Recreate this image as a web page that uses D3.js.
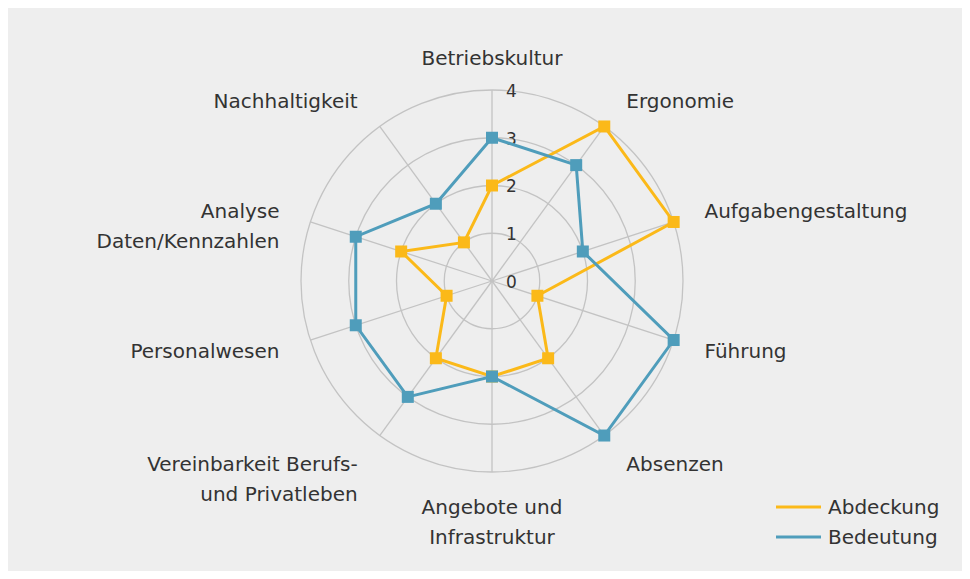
<!DOCTYPE html>
<html>
<head>
<meta charset="utf-8">
<script src="https://cdn.jsdelivr.net/npm/d3@7"></script>
<style>
  html, body { margin: 0; padding: 0; background: #fff; }
  svg { display: block; }
  text { font-family: "DejaVu Sans", sans-serif; fill: #333; }
</style>
</head>
<body>
<svg width="970" height="579"></svg>
<script>
// categories clockwise from the top, "|" splits a label into lines
const categories = [
  "Betriebskultur",
  "Ergonomie",
  "Aufgabengestaltung",
  "Führung",
  "Absenzen",
  "Angebote und|Infrastruktur",
  "Vereinbarkeit Berufs-|und Privatleben",
  "Personalwesen",
  "Analyse|Daten/Kennzahlen",
  "Nachhaltigkeit"
];
const abdeckung = [2, 4, 4, 1, 2, 2, 2, 1, 2, 1];
const bedeutung = [3, 3, 2, 4, 4, 2, 3, 3, 3, 2];
const ticks = [0, 1, 2, 3, 4];
const seriesNames = ["Abdeckung", "Bedeutung"];
const seriesColors = ["#fbb919", "#4f9dbb"];

const W = 970, H = 579;
const CX = 492, CY = 281, R = 191;

const svg = d3.select("svg");

// grey panel
svg.append("rect")
  .attr("x", 8).attr("y", 8)
  .attr("width", W - 16).attr("height", H - 16)
  .attr("fill", "#eeeeee");

const g = svg.append("g").attr("transform", `translate(${CX},${CY})`);

const r = d3.scaleLinear().domain([0, 4]).range([0, R]);
const angle = d3.scaleLinear()
  .domain([0, categories.length])
  .range([0, 2 * Math.PI]);

const px = (i, v) => r(v) * Math.sin(angle(i));
const py = (i, v) => -r(v) * Math.cos(angle(i));

// rings
g.selectAll(".ring")
  .data(ticks.filter(t => t > 0))
  .enter()
  .append("circle")
  .attr("r", d => r(d))
  .attr("fill", "none")
  .attr("stroke", "#c3c3c3")
  .attr("stroke-width", 1.3);

// spokes
g.selectAll(".spoke")
  .data(categories)
  .enter()
  .append("line")
  .attr("x1", 0).attr("y1", 0)
  .attr("x2", (d, i) => px(i, 4))
  .attr("y2", (d, i) => py(i, 4))
  .attr("stroke", "#c3c3c3")
  .attr("stroke-width", 1.3);

// tick labels
g.selectAll(".tick")
  .data(ticks)
  .enter()
  .append("text")
  .attr("x", 14)
  .attr("y", d => -r(d))
  .attr("dy", "0.4em")
  .attr("font-size", 17)
  .text(d => d);

// category labels
const LR = 215, LINE = 30;
categories.forEach((c, i) => {
  const a = angle(i);
  const s = Math.sin(a), co = Math.cos(a);
  const lines = c.split("|");
  const anchor = s > 0.1 ? "start" : s < -0.1 ? "end" : "middle";
  const x = LR * s + (s > 0.1 ? 8 : s < -0.1 ? -8 : 0);
  const y0 = -LR * co - co * 11 + (co > 0.5 ? 3 : 0);
  const t = g.append("text")
    .attr("text-anchor", anchor)
    .attr("font-size", 20);
  lines.forEach((l, k) => {
    t.append("tspan")
      .attr("x", x)
      .attr("y", y0 + k * LINE)
      .attr("dy", "0.35em")
      .text(l);
  });
});

// series
const radial = d3.lineRadial()
  .angle((d, i) => angle(i))
  .radius(d => r(d))
  .curve(d3.curveLinearClosed);

[abdeckung, bedeutung].forEach((vals, si) => {
  const col = seriesColors[si];
  g.append("path")
    .attr("d", radial(vals))
    .attr("fill", "none")
    .attr("stroke", col)
    .attr("stroke-width", 3);
  g.selectAll(".m" + si)
    .data(vals)
    .enter()
    .append("rect")
    .attr("x", (d, i) => px(i, d) - 6)
    .attr("y", (d, i) => py(i, d) - 6)
    .attr("width", 12)
    .attr("height", 12)
    .attr("fill", col);
});

// legend
const lg = svg.append("g").attr("transform", "translate(776,507)");
seriesNames.forEach((n, i) => {
  lg.append("line")
    .attr("x1", 0).attr("x2", 45)
    .attr("y1", i * 30).attr("y2", i * 30)
    .attr("stroke", seriesColors[i])
    .attr("stroke-width", 3);
  lg.append("text")
    .attr("x", 52)
    .attr("y", i * 30)
    .attr("dy", "0.35em")
    .attr("font-size", 20)
    .text(n);
});
</script>
</body>
</html>
